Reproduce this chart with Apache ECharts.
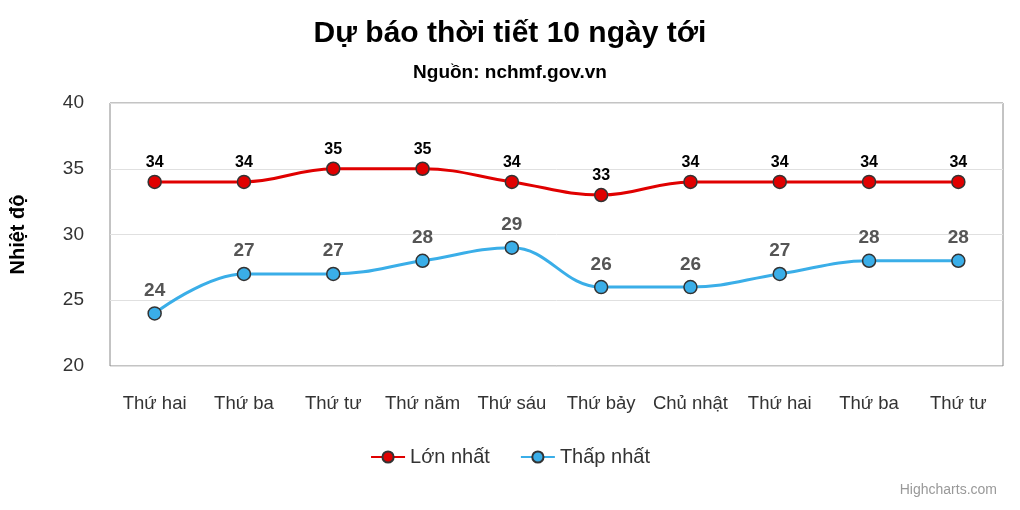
<!DOCTYPE html>
<html><head><meta charset="utf-8">
<script src="https://cdn.jsdelivr.net/npm/echarts@6/dist/echarts.min.js"></script>
<style>html,body{margin:0;padding:0;background:#fff}#main{width:1020px;height:510px}</style>
</head><body><div id="main"></div>
<script>
var days = ['Thứ hai','Thứ ba','Thứ tư','Thứ năm','Thứ sáu','Thứ bảy','Chủ nhật','Thứ hai','Thứ ba','Thứ tư'];
var maxTemp = [34,34,35,35,34,33,34,34,34,34];
var minTemp = [24,27,27,28,29,26,26,27,28,28];

var myChart = echarts.init(document.getElementById('main'));
var option = {
	textStyle:{fontFamily:'Liberation Sans, Arial, sans-serif'},
	title:[
		{text:'Dự báo thời tiết 10 ngày tới',left:'center',top:14,textStyle:{fontSize:30,fontWeight:'bold',color:'#000'}},
		{text:'Nguồn: nchmf.gov.vn',left:'center',top:58,textStyle:{fontSize:19,fontWeight:'bold',color:'#000'}},
		{text:'Highcharts.com',right:18,bottom:8,textStyle:{fontSize:14,fontWeight:'normal',color:'#999'}}
	],
	legend:{bottom:38,itemWidth:34,itemHeight:14,itemGap:30,
		textStyle:{fontSize:20,color:'#333'},data:['Lớn nhất','Thấp nhất']},
	grid:{left:105,right:17,top:103,bottom:144,show:true,borderColor:'#888',borderWidth:1},
	xAxis:{type:'category',data:days,boundaryGap:true,
		axisLine:{show:false},axisTick:{show:false},
		axisLabel:{fontSize:18.5,color:'#333',margin:28,interval:0,hideOverlap:false}},
	yAxis:{type:'value',min:20,max:40,interval:5,
		name:'Nhiệt độ',nameLocation:'middle',nameGap:82,
		nameTextStyle:{fontSize:20,fontWeight:'bold',color:'#000'},
		axisLabel:{fontSize:19,color:'#333',margin:26},
		splitLine:{lineStyle:{color:'#e0e0e0'}}},
	series:[
		{name:'Lớn nhất',type:'line',smooth:0.4,data:maxTemp,color:'#e00000',
			lineStyle:{width:3},symbol:'circle',symbolSize:13,
			itemStyle:{color:'#e00000',borderColor:'#333',borderWidth:1.5},
			label:{show:true,position:'top',distance:4,fontSize:16,fontWeight:'bold',color:'#000'}},
		{name:'Thấp nhất',type:'line',smooth:0.4,data:minTemp,color:'#3aaee8',
			lineStyle:{width:3},symbol:'circle',symbolSize:13,
			itemStyle:{color:'#3aaee8',borderColor:'#333',borderWidth:1.5},
			label:{show:true,position:'top',distance:6,fontSize:19,fontWeight:'bold',color:'#555'}}
	]
};
myChart.setOption(option);
</script></body></html>
